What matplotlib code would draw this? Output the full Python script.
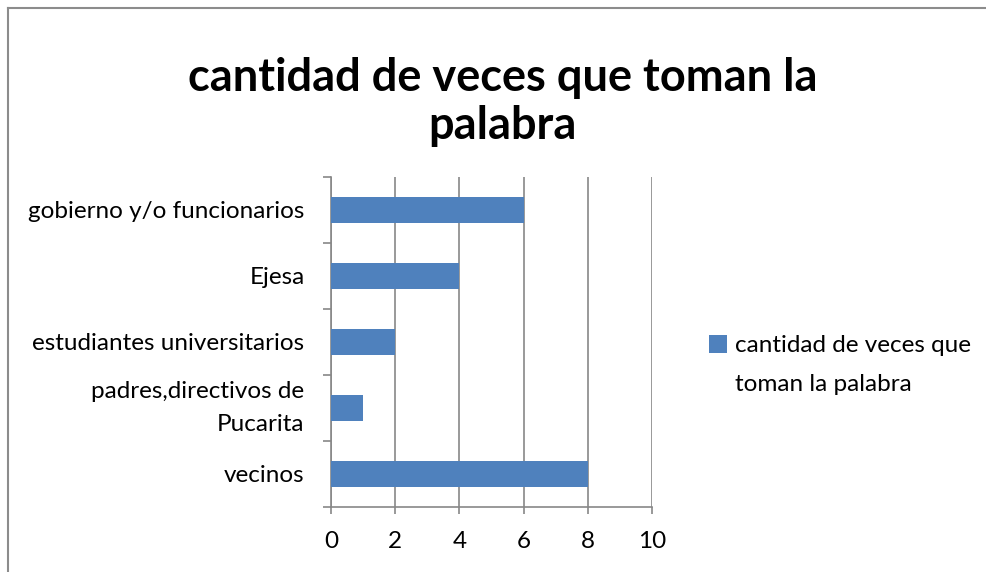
import matplotlib.pyplot as plt
from matplotlib.lines import Line2D
from matplotlib.patches import Patch

# datos del grafico (de abajo hacia arriba)
categorias = ["vecinos", "padres,directivos de\nPucarita", "estudiantes universitarios",
              "Ejesa", "gobierno y/o funcionarios"]
valores = [8, 1, 2, 4, 6]
serie = ["cantidad de veces que", "toman la palabra"]
titulo = "cantidad de veces que toman la\npalabra"
ticks_x = [0, 2, 4, 6, 8, 10]

plt.rcParams['font.family'] = ['Lato', 'DejaVu Sans']

fig = plt.figure(figsize=(9.86, 5.72), dpi=100)
ax = fig.add_axes([331 / 986, 1 - 507 / 572, 321 / 986, 330 / 572])

pos = list(range(len(categorias)))
barras = ax.barh(pos, valores, height=0.39, color="#4f81bd", zorder=3)

ax.set_xlim(0, 10)
ax.set_ylim(-0.5, len(categorias) - 0.5)
ax.set_xticks(ticks_x)
ax.set_xticklabels([str(t) for t in ticks_x], fontsize=17.5)
ax.set_yticks(pos)
ax.set_yticklabels(categorias, fontsize=17.5, linespacing=1.75)
for t in ax.get_yticklabels():
    if "\n" in t.get_text():
        t.set_va("center")
ax.tick_params(axis="y", length=0, pad=19)
ax.tick_params(axis="x", length=5, width=1.2, color="#878787", pad=12)
# marcas del eje y en los limites de categoria
ax.set_yticks([p - 0.5 for p in pos] + [len(pos) - 0.5], minor=True)
ax.tick_params(axis="y", which="minor", length=6, width=1.2, color="#878787")

ax.grid(axis="x", color="#878787", linewidth=1.2, zorder=0)
for s in ["top", "right"]:
    ax.spines[s].set_visible(False)
for s in ["left", "bottom"]:
    ax.spines[s].set_color("#878787")
    ax.spines[s].set_linewidth(1.2)

fig.text(0.51, 1 - 102 / 572, titulo, ha="center", va="center", fontsize=32.5,
         fontweight="bold", linespacing=1.2)

# leyenda: la segunda linea del nombre va sin simbolo
vacio = Patch(facecolor="none", edgecolor="none")
fig.legend([barras, vacio], serie, loc="upper left",
           bbox_to_anchor=(709 / 986, 1 - 335 / 572), frameon=False,
           fontsize=17.5, handlelength=0.75, handleheight=0.75, handletextpad=0.3,
           labelspacing=0.72, borderpad=0, borderaxespad=0)

# borde del area del grafico
fig.add_artist(Line2D([8 / 986, 8 / 986], [0, 1 - 8 / 572], color="#8c8c8c", lw=1.5))
fig.add_artist(Line2D([8 / 986, 1], [1 - 8 / 572, 1 - 8 / 572], color="#8c8c8c", lw=1.5))

fig.savefig("out.png", dpi=100)
